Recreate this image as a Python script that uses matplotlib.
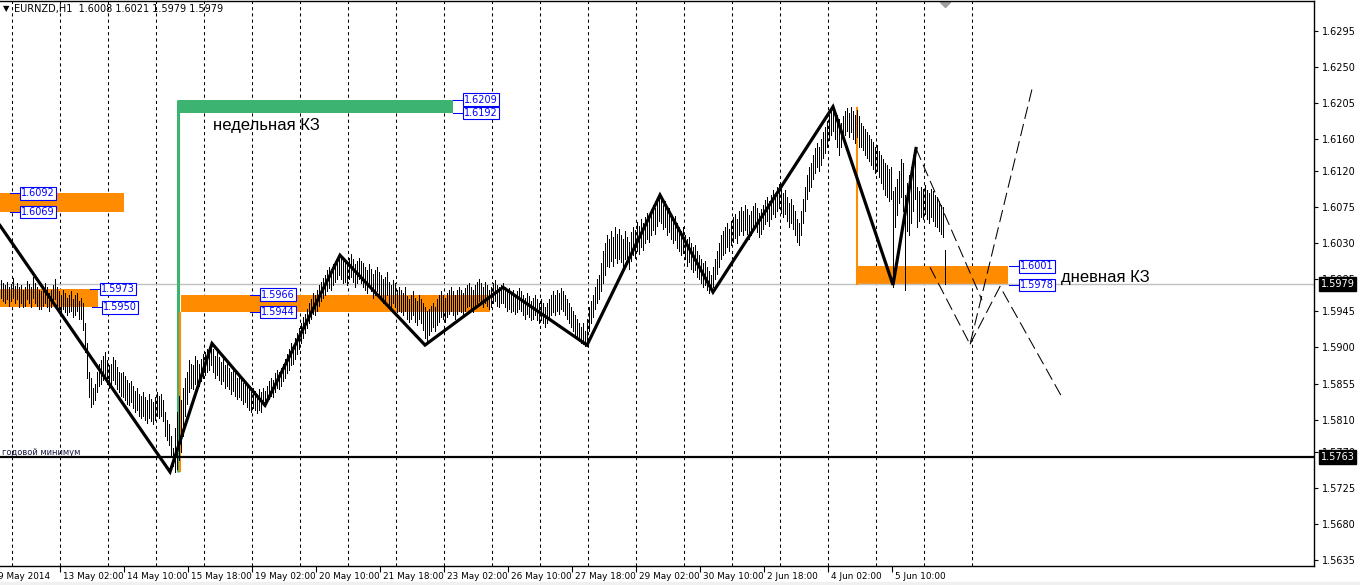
import matplotlib.pyplot as plt
from matplotlib.patches import Rectangle

# EURNZD H1 bars, values in pips above 1.5000
bar_high = [
    984, 980, 978, 982, 975, 979, 986, 977, 980, 975,
    978, 972, 976, 983, 979, 975, 988, 980, 976, 972,
    970, 976, 980, 975, 968, 972, 978, 985, 975, 970,
    965, 972, 968, 962, 966, 970, 960, 965, 968, 958,
    962, 955, 930, 905, 870, 862, 850, 855, 870, 880,
    885, 890, 895, 885, 878, 880, 888, 884, 876, 870,
    868, 870, 864, 860, 856, 858, 852, 846, 850, 842,
    840, 845, 838, 835, 842, 836, 832, 838, 845, 840,
    842, 835, 820, 810, 805, 790, 775, 800, 820, 840,
    835, 850, 862, 870, 885, 880, 878, 890, 884, 880,
    886, 892, 895, 898, 900, 905, 898, 890, 895, 888,
    882, 886, 878, 880, 875, 870, 874, 868, 862, 865,
    860, 856, 858, 852, 848, 845, 850, 846, 842, 848,
    845, 850, 846, 852, 858, 862, 860, 868, 872, 870,
    875, 880, 886, 892, 898, 905, 902, 912, 918, 924,
    930, 938, 942, 948, 955, 960, 968, 965, 972, 978,
    982, 986, 990, 996, 1000, 998, 1004, 1008, 1010, 1015,
    1012, 1008, 1010, 1006, 1012, 1016, 1010, 1004, 1008, 1012,
    1008, 1005, 1000, 996, 1004, 998, 992, 996, 1000, 994,
    990, 985, 988, 994, 982, 978, 984, 980, 972, 976,
    972, 968, 975, 964, 960, 966, 970, 962, 958, 965,
    960, 955, 950, 945, 948, 952, 956, 950, 960, 965,
    970, 966, 962, 968, 972, 975, 970, 966, 972, 976,
    972, 968, 974, 978, 980, 976, 972, 978, 982, 985,
    980, 976, 982, 978, 972, 976, 980, 984, 978, 975,
    978, 980, 975, 970, 974, 968, 972, 966, 970, 974,
    970, 966, 962, 968, 964, 958, 962, 966, 960, 956,
    960, 955, 950, 956, 960, 966, 970, 965, 972, 968,
    974, 970, 966, 960, 956, 950, 946, 940, 936, 930,
    926, 930, 920, 935, 950, 958, 965, 975, 985, 990,
    1005, 1020, 1030, 1040, 1035, 1045, 1038, 1050, 1042, 1048,
    1040, 1035, 1045, 1038, 1032, 1044, 1050, 1046, 1056, 1052,
    1060, 1055, 1062, 1068, 1064, 1072, 1078, 1074, 1085, 1090,
    1086, 1078, 1082, 1070, 1074, 1066, 1060, 1064, 1055, 1050,
    1045, 1050, 1040, 1035, 1038, 1030, 1025, 1028, 1020, 1015,
    1010, 1005, 1008, 1000, 995, 990, 1000, 1010, 1020, 1030,
    1040, 1045, 1050, 1055, 1048, 1058, 1062, 1066, 1060, 1070,
    1075, 1070, 1078, 1072, 1065, 1070, 1076, 1080, 1074, 1068,
    1072, 1078, 1084, 1088, 1082, 1090, 1096, 1092, 1100, 1104,
    1098, 1092, 1096, 1088, 1080, 1085, 1078, 1070, 1060, 1055,
    1070, 1085, 1100, 1115, 1125, 1130, 1140, 1148, 1155, 1150,
    1160, 1168, 1175, 1182, 1190, 1196, 1200, 1195, 1190, 1185,
    1180, 1188, 1195, 1198, 1192, 1200, 1195, 1190, 1196, 1188,
    1180, 1176, 1172, 1168, 1165, 1160, 1156, 1150, 1152, 1145,
    1140, 1135, 1130, 1128, 1122, 1125, 1095, 1100, 1110, 1120,
    1135, 1130, 1090, 1105, 1115, 1125, 1140, 1148, 1100, 1095,
    1100, 1098, 1102, 1096, 1092, 1098, 1095, 1090, 1088, 1082,
    1078, 1075, 1021,
]
bar_low = [
    962, 958, 955, 960, 952, 958, 962, 955, 960, 950,
    955, 950, 952, 960, 955, 950, 962, 955, 952, 948,
    948, 952, 955, 950, 945, 950, 955, 960, 952, 945,
    942, 948, 944, 940, 944, 946, 938, 940, 945, 935,
    935, 922, 895, 862, 838, 826, 830, 835, 845, 852,
    855, 860, 862, 855, 850, 852, 860, 855, 848, 845,
    840, 838, 835, 830, 828, 832, 825, 820, 822, 815,
    812, 815, 810, 806, 812, 808, 805, 810, 815, 812,
    815, 808, 790, 785, 778, 765, 752, 745, 748, 760,
    770, 790, 815, 830, 845, 850, 848, 855, 855, 852,
    858, 862, 866, 870, 872, 878, 870, 862, 866, 860,
    855, 858, 850, 852, 848, 842, 846, 840, 836, 838,
    835, 830, 832, 826, 822, 820, 825, 822, 818, 822,
    820, 828, 828, 832, 836, 840, 838, 845, 850, 848,
    852, 858, 862, 868, 872, 878, 880, 886, 892, 898,
    905, 912, 918, 924, 930, 935, 942, 940, 946, 952,
    958, 962, 965, 970, 974, 972, 978, 982, 985, 990,
    985, 980, 982, 978, 985, 988, 982, 975, 980, 985,
    980, 976, 972, 968, 975, 970, 962, 966, 970, 964,
    962, 955, 958, 965, 952, 948, 955, 950, 944, 946,
    944, 940, 945, 935, 932, 936, 940, 932, 928, 935,
    930, 922, 912, 905, 915, 920, 925, 920, 928, 932,
    938, 935, 932, 938, 942, 945, 940, 936, 942, 945,
    944, 940, 946, 950, 952, 948, 944, 950, 955, 958,
    955, 950, 955, 952, 948, 950, 955, 958, 952, 950,
    955, 956, 950, 946, 948, 944, 946, 942, 944, 948,
    945, 940, 936, 942, 938, 934, 936, 940, 934, 930,
    934, 930, 926, 930, 935, 940, 944, 940, 946, 942,
    948, 945, 940, 935, 930, 925, 920, 915, 912, 908,
    906, 904, 902, 905, 920, 930, 938, 948, 955, 960,
    970, 980, 990, 1002, 1000, 1008, 1002, 1012, 1005, 1010,
    1006, 1000, 1010, 1004, 998, 1008, 1015, 1012, 1020, 1016,
    1025, 1022, 1030, 1035, 1032, 1040, 1046, 1042, 1052, 1058,
    1055, 1048, 1050, 1040, 1044, 1035, 1030, 1034, 1024, 1020,
    1015, 1018, 1010, 1002, 1006, 998, 994, 996, 988, 985,
    980, 975, 978, 972, 968, 970, 975, 985, 992, 1000,
    1010, 1015, 1018, 1025, 1020, 1028, 1032, 1036, 1030, 1040,
    1045, 1040, 1046, 1042, 1035, 1040, 1046, 1050, 1044, 1038,
    1042, 1048, 1054, 1058, 1052, 1060, 1066, 1062, 1070, 1074,
    1068, 1062, 1066, 1058, 1050, 1055, 1048, 1040, 1032, 1028,
    1040, 1055, 1070, 1085, 1095, 1100, 1110, 1118, 1125, 1120,
    1128, 1136, 1142, 1150, 1158, 1165, 1170, 1160, 1150, 1140,
    1150, 1158, 1165, 1170, 1162, 1168, 1160, 1155, 1162, 1150,
    1150, 1146, 1140, 1136, 1132, 1128, 1122, 1118, 1120, 1112,
    1105, 1098, 1090, 1088, 1082, 1085, 976, 1050, 1065, 1080,
    1087, 1070, 972, 1045, 1040, 1055, 1070, 1085, 1050, 1058,
    1062, 1060, 1066, 1060, 1055, 1062, 1058, 1052, 1050, 1045,
    1042, 1038, 979,
]

# zigzag pivots (bar index, pips)
zz_bar = [-0.5, 84.5, 105.5, 132, 169.5, 212, 251, 293, 329.5, 356, 416, 446, 457.5]
zz_pips = [1052, 745, 905, 828, 1015, 903, 975, 903, 1090, 969, 1200, 978, 1148]

# dashed projections
proj_x_bar = [457.5, 490.5]
proj_x_pips = [1148, 959]
proj_y_bar = [464.5, 484.5, 515.5]
proj_y_pips = [1000, 904, 1222]
proj_z_bar = [484.5, 499.5, 530.5]
proj_z_pips = [904, 976, 838]

# zones: bar from, bar to, low, high (pips)
zone_from = [-0.5, -0.5, 90, 428.5]
zone_to = [61.5, 48.5, 244.5, 503.5]
zone_lo = [1069, 950, 944, 978]
zone_hi = [1092, 973, 966, 1001]
zone_label_bar = [[9.5, 9.5], [49.5, 50.5], [129.5, 129.5], [509, 509]]
week_from, week_to, week_lo, week_hi = 88.5, 226, 1192, 1209

year_low = 1.5763
last_price = 1.5979

time_labels = ['13 May 02:00', '14 May 10:00', '15 May 18:00', '19 May 02:00',
               '20 May 10:00', '21 May 18:00', '23 May 02:00', '26 May 10:00',
               '27 May 18:00', '29 May 02:00', '30 May 10:00', '2 Jun 18:00',
               '4 Jun 02:00', '5 Jun 10:00']
price_ticks = [1.5635, 1.5680, 1.5725, 1.5770, 1.5810, 1.5855, 1.5900, 1.5945,
               1.5985, 1.6030, 1.6075, 1.6120, 1.6160, 1.6205, 1.6250, 1.6295]


def px(p):
    return 1.5 + p / 10000.0


ORANGE = '#ff8c00'
GREEN = '#3cb371'

fig = plt.figure(figsize=(13.6, 5.85), dpi=100)
fig.patches.append(Rectangle((0, 0), 1, 3 / 585, transform=fig.transFigure,
                             color='#f0f0f0', zorder=0))
ax = fig.add_axes([0, 19 / 585, 1314 / 1360, 565.5 / 585])
ax.set_xlim(-0.5, 656.5)
ax.set_ylim(1.56277, 1.63324)

# vertical grid
for k in range(21):
    ax.axvline(5.5 + 24 * k, color='black', lw=0.75, ls=(0, (3, 3)), zorder=1)

# zones
for i in range(len(zone_from)):
    ax.add_patch(Rectangle((zone_from[i], px(zone_lo[i])), zone_to[i] - zone_from[i],
                           px(zone_hi[i]) - px(zone_lo[i]), color=ORANGE, lw=0, zorder=2))
ax.add_patch(Rectangle((week_from, px(week_lo)), week_to - week_from,
                       px(week_hi) - px(week_lo), color=GREEN, lw=0, zorder=2))
ax.plot([88.5, 88.5], [px(week_hi), px(745)], color=GREEN, lw=2.2, zorder=3,
        solid_capstyle='butt')
ax.plot([89.7, 89.7], [px(944), px(745)], color=ORANGE, lw=1.5, zorder=3,
        solid_capstyle='butt')
ax.plot([428, 428], [px(1200), px(978)], color=ORANGE, lw=1.5, zorder=3,
        solid_capstyle='butt')

# horizontal lines
ax.axhline(last_price, color='#c0c0c0', lw=1, zorder=2)
ax.axhline(year_low, color='black', lw=1.6, zorder=4)

# bars
xs = list(range(len(bar_high)))
ax.vlines(xs, [px(v) for v in bar_low], [px(v) for v in bar_high],
          color='black', lw=0.72, zorder=5, antialiased=False)

# zigzag and projections
ax.plot(zz_bar, [px(v) for v in zz_pips], color='black', lw=2.3, zorder=6,
        solid_joinstyle='miter')
for pb, pp in [(proj_x_bar, proj_x_pips), (proj_y_bar, proj_y_pips),
               (proj_z_bar, proj_z_pips)]:
    ax.plot(pb, [px(v) for v in pp], color='black', lw=0.75,
            ls=(0, (12, 5)), zorder=6)

# price labels of zones
box = dict(boxstyle='square,pad=0.12', fc='white', ec='blue', lw=0.8)
labels = [(zone_label_bar[i], zone_lo[i], zone_hi[i]) for i in range(len(zone_from))]
labels.append(([231, 231], week_lo, week_hi))
for lb, lo, hi in labels:
    for xb, v in zip([lb[0], lb[1]], [hi, lo]):
        ax.plot([xb - 5, xb], [px(v), px(v)], color='blue', lw=0.75, zorder=7)
        ax.text(xb + 0.5, px(v), '%.4f' % px(v), color='blue', fontsize=7,
                ha='left', va='center', bbox=box, zorder=8)

# texts
ax.text(106, px(1177), 'недельная КЗ', fontsize=12, family='Liberation Sans',
        ha='left', va='center', zorder=8)
ax.text(530, px(987), 'дневная КЗ', fontsize=12, family='Liberation Sans',
        ha='left', va='center', zorder=8)
ax.text(0.5, year_low + 0.0001, 'годовой минимум', fontsize=6, color='#1a1a40',
        ha='left', va='bottom', zorder=8)
ax.text(0.002, 0.985, '\u25bc', transform=ax.transAxes, fontsize=6,
        ha='left', va='center')
ax.text(0.011, 0.985, 'EURNZD,H1  1.6008 1.6021 1.5979 1.5979',
        transform=ax.transAxes, fontsize=7, ha='left', va='center')
ax.plot([472], [1.6330], marker='D', color='#a0a0a0', ms=5, clip_on=True)

# axes
ax.spines['left'].set_visible(False)
for s in ['top', 'right', 'bottom']:
    ax.spines[s].set_linewidth(1)
ax.yaxis.tick_right()
ax.set_yticks(price_ticks)
ax.set_yticklabels(['%.4f' % t for t in price_ticks], fontsize=7)
ax.tick_params(axis='y', length=3, pad=3, width=0.8)

time_bars = [29.5 + 32 * k for k in range(len(time_labels))]
ax.set_xticks(time_bars)
ax.set_xticklabels([])
ax.tick_params(axis='x', length=4, width=0.8)
xt = ax.get_xaxis_transform()
for xb, t in zip(time_bars, time_labels):
    ax.text(xb + 1.5, -0.018, t, transform=xt, fontsize=6.4, ha='left', va='center',
            clip_on=False)
ax.text(-1.5, -0.018, '9 May 2014', transform=xt, fontsize=6.4, ha='left',
        va='center', clip_on=False)

# current price / year low boxes on axis
yt = ax.get_yaxis_transform()
for p in [last_price, year_low]:
    ax.text(1.005, p, '%.4f' % p, transform=yt, fontsize=7, color='white',
            ha='left', va='center', clip_on=False, zorder=10,
            bbox=dict(boxstyle='square,pad=0.2', fc='black', ec='black'))

fig.savefig('out.png', dpi=100)
